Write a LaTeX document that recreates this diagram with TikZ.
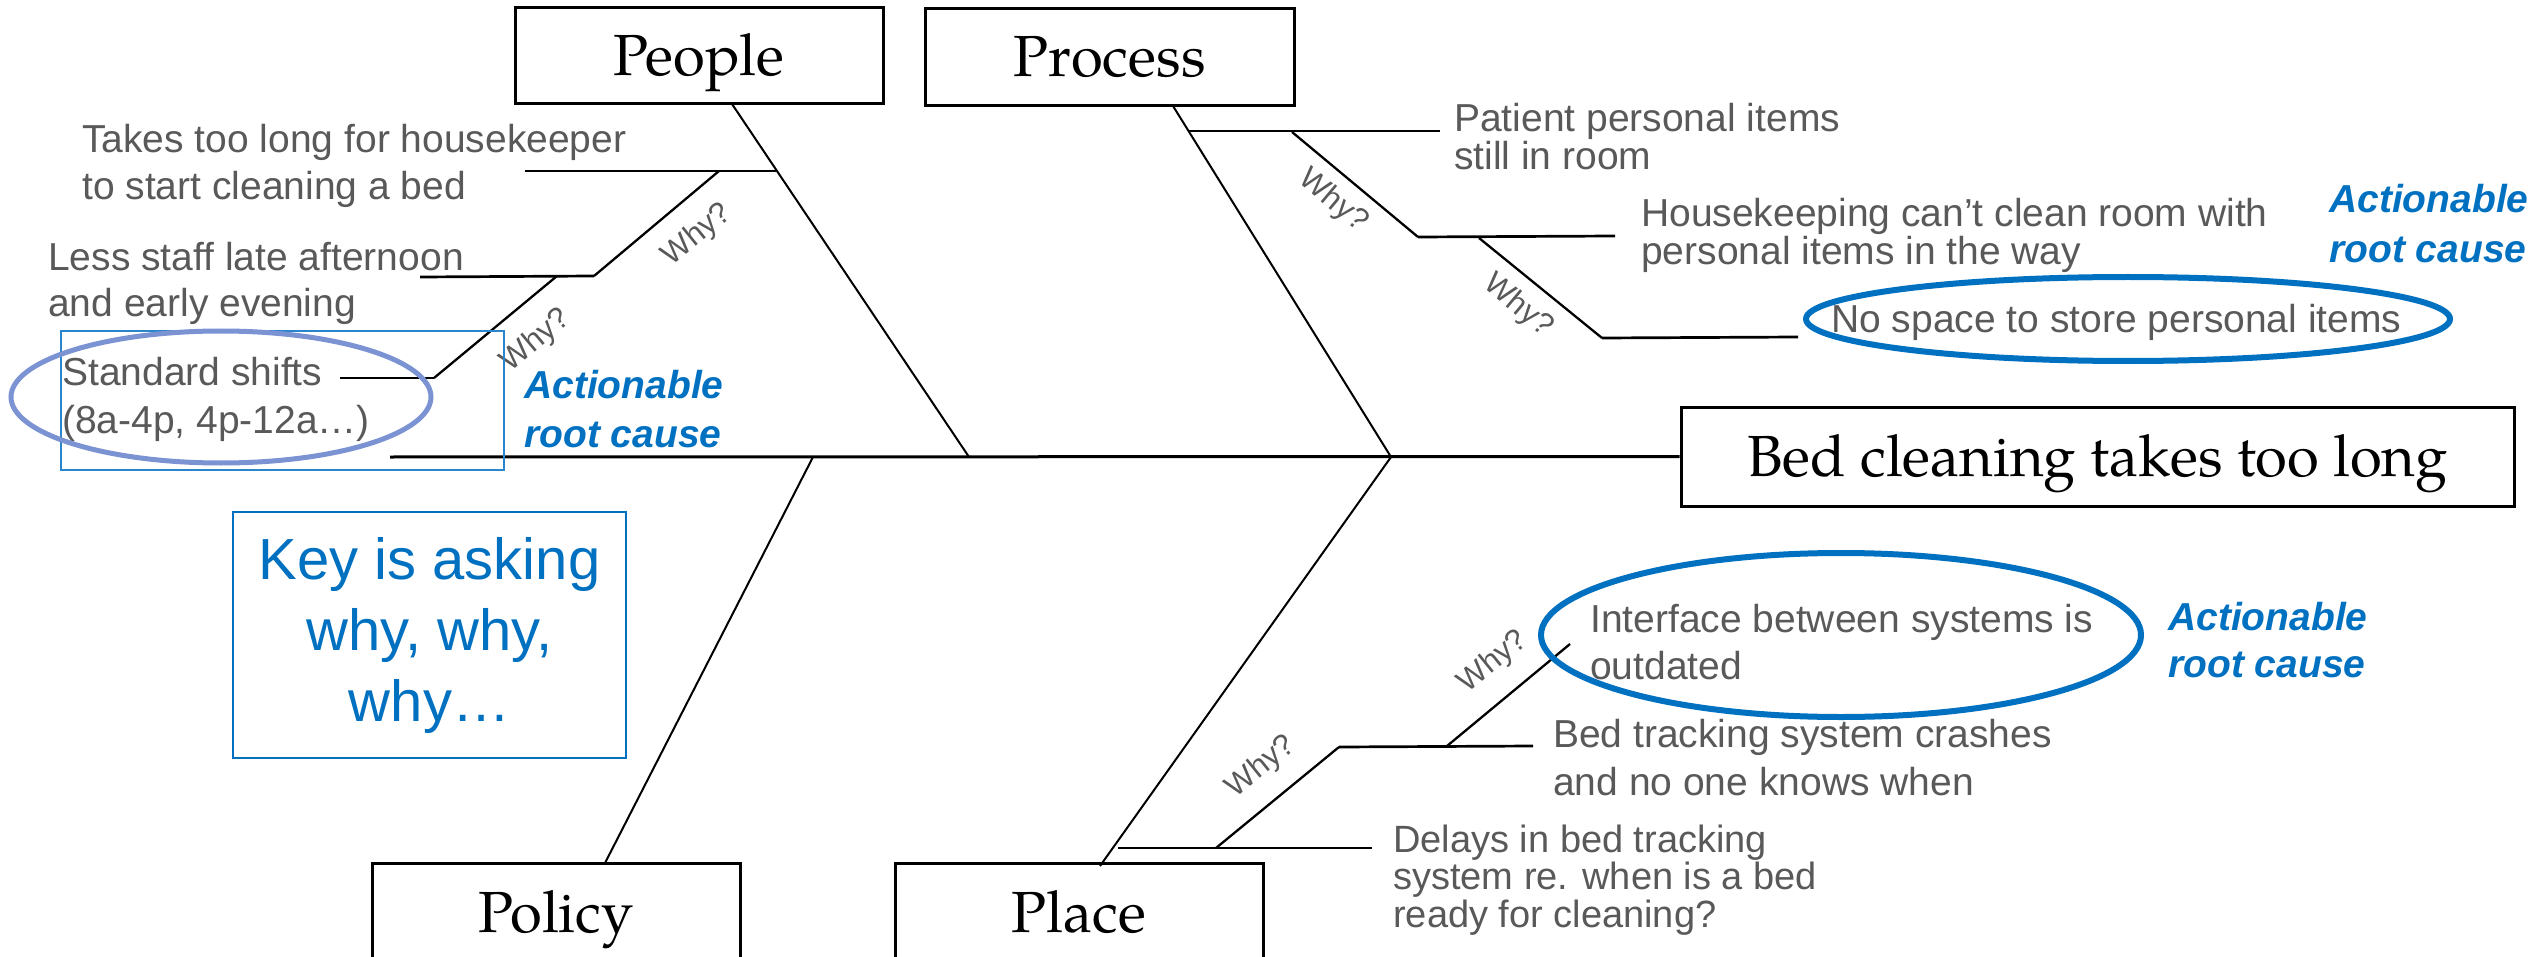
\documentclass[tikz,border=0pt]{standalone}
\usepackage{fontspec}
\setmainfont{Liberation Sans}
\newfontfamily\palfont{texgyrepagella-regular.otf}
\definecolor{bodygray}{HTML}{595959}
\definecolor{accent}{HTML}{0070C0}
\definecolor{softblue}{HTML}{7B93D3}
\definecolor{frameblue}{HTML}{2A85CC}
\tikzset{
  catbox/.style={draw=black, line width=3pt, minimum width=368pt, inner sep=0pt,
    font=\palfont\fontsize{58}{70}\selectfont, text height=42pt, text depth=3pt},
  % multi-line texts are placed by the baseline of their last line
  cause/.style={anchor=base west, inner sep=0pt, align=left, text=bodygray,
    font=\fontsize{39}{47}\selectfont},
  tight/.style={font=\fontsize{39}{38}\selectfont},
  why/.style={inner sep=0pt, text=bodygray, font=\fontsize{31}{36}\selectfont},
  action/.style={anchor=base west, inner sep=0pt, align=left, text=accent,
    font=\bfseries\itshape\fontsize{39}{48}\selectfont},
  spine/.style={line width=3pt},
  bone/.style={line width=2pt},
  twig/.style={line width=2.7pt},
  stem/.style={line width=2.3pt},
  ring/.style={line width=6pt, draw=accent},
}
\begin{document}
\begin{tikzpicture}[x=1pt, y=-1pt]
\useasboundingbox (0,0) rectangle (2542,957);
\clip (0,0) rectangle (2542,957);
\fill[white] (0,0) rectangle (2542,957);

% category boxes and the effect box
\node[catbox, minimum height=96pt] (people) at (699,56) {People};
\node[catbox, minimum height=97pt, minimum width=369pt] (process) at (1109.5,57.5) {Process};
\node[catbox, minimum height=100pt] (policy) at (556,913) {Policy};
\node[catbox, minimum height=100pt] (place) at (1079,913) {Place};
\node[catbox, minimum height=99pt, minimum width=833pt] (effect) at (2097.5,456.5) {Bed cleaning takes too long};

% spine and main bones
\coordinate (tail) at (390,457);
\coordinate (jpeople) at (969,457);
\coordinate (jproc) at (1391,457);
\coordinate (jpolicy) at (813,457);
\coordinate (peoplefoot) at (732,104);
\coordinate (procfoot) at (1173,106);
\coordinate (policytop) at (605,863);
\coordinate (placetop) at (1100,866);
\draw[spine] (tail) -- (effect.west);
\draw[bone] (peoplefoot) -- (jpeople);
\draw[bone] (procfoot) -- (jproc);
\draw[bone] (jpolicy) -- (policytop);
\draw[bone] (jproc) -- (placetop);

% People: why chain
\coordinate (p1a) at (525,171); \coordinate (p1b) at (778,171);
\coordinate (p1k) at (719,171); \coordinate (p2b) at (594,276); \coordinate (p2a) at (420,277);
\coordinate (p2k) at (557,276); \coordinate (p3b) at (434,378); \coordinate (p3a) at (340,378);
\draw[twig] (p1a) -- (p1b);
\draw[stem] (p1k) -- (p2b);
\draw[twig] (p2a) -- (p2b);
\draw[stem] (p2k) -- (p3b);
\draw[twig] (p3a) -- (p3b);

% Process: why chain
\coordinate (r1a) at (1189,131); \coordinate (r1b) at (1440,131);
\coordinate (r1k) at (1292,132); \coordinate (r2a) at (1418,237); \coordinate (r2b) at (1615,236);
\coordinate (r2k) at (1479,238); \coordinate (r3a) at (1602,338); \coordinate (r3b) at (1798,337);
\draw[twig] (r1a) -- (r1b);
\draw[stem] (r1k) -- (r2a);
\draw[twig] (r2a) -- (r2b);
\draw[stem] (r2k) -- (r3a);
\draw[twig] (r3a) -- (r3b);

% Place: why chain
\coordinate (l1a) at (1118,848); \coordinate (l1b) at (1372,848);
\coordinate (l1k) at (1216,848); \coordinate (l2a) at (1339,747); \coordinate (l2b) at (1533,746);
\coordinate (l2k) at (1447,746); \coordinate (l3) at (1570,644);
\draw[twig] (l1a) -- (l1b);
\draw[stem] (l1k) -- (l2a);
\draw[twig] (l2a) -- (l2b);
\draw[stem] (l2k) -- (l3);

% causes
\node[cause] (c1) at (82,200) {Takes too long for housekeeper\\to start cleaning a bed};
\node[cause] (c2) at (48,317) {Less staff late afternoon\\and early evening};
\node[cause, font=\fontsize{39}{48}\selectfont] (c3) at (62,433) {Standard shifts\\(8a-4p, 4p-12a…)};
\node[cause, tight] (c4) at (1454,170) {Patient personal items\\still in room};
\node[cause, tight] (c5) at (1641,265) {Housekeeping can’t clean room with\\personal items in the way};
\node[cause] (c6) at (1831,333) {No space to store personal items};
\node[cause] (c7) at (1590,679) {Interface between systems is\\outdated};
\node[cause, font=\fontsize{39}{48}\selectfont] (c8) at (1553,795) {Bed tracking system crashes\\and no one knows when};
\node[cause, font=\fontsize{38}{37.5}\selectfont] (c9) at (1393,927) {Delays in bed tracking\\system re. when is a bed\\ready for cleaning?};

% root cause callouts
\node[action, font=\bfseries\itshape\fontsize{39}{49}\selectfont] (a1) at (524,447) {Actionable\\root cause};
\node[action, font=\bfseries\itshape\fontsize{39}{50}\selectfont] (a2) at (2329,263) {Actionable\\root cause};
\node[action, font=\bfseries\itshape\fontsize{39}{47}\selectfont] (a3) at (2168,677) {Actionable\\root cause};

% why labels
\node[why, rotate=39] (w1) at (697,235) {Why?};
\node[why, rotate=40] (w2) at (536,341) {Why?};
\node[why, rotate=-40] (w3) at (1333,201) {Why?};
\node[why, rotate=-40] (w4) at (1518,306) {Why?};
\node[why, rotate=39] (w5) at (1261,767) {Why?};
\node[why, rotate=39] (w6) at (1493,662) {Why?};

% frames and highlight rings
\node[draw=frameblue, line width=2pt, minimum width=443pt, minimum height=139pt, inner sep=0pt] (shiftframe) at (282.5,400.5) {};
\node[draw=accent, line width=2.2pt, minimum width=393pt, minimum height=246pt, inner sep=0pt,
  align=center, text=accent, font=\fontsize{58}{71}\selectfont] (keybox) at (429.5,635) {Key is asking\\why, why,\\why…};
\draw[softblue, line width=5pt] (221,397) ellipse [x radius=210pt, y radius=66pt];
\draw[ring] (2128,319) ellipse [x radius=322pt, y radius=42pt];
\draw[ring] (1841,635) ellipse [x radius=300pt, y radius=82pt];
\end{tikzpicture}
\end{document}
